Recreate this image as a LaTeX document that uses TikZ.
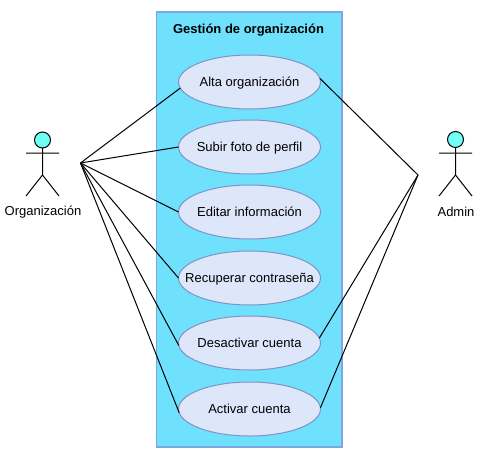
\documentclass[tikz,border=0pt]{standalone}
\usepackage{fontspec}
\setmainfont{Liberation Sans}
\usetikzlibrary{shapes.geometric}
\definecolor{boxfill}{HTML}{70E1FD}
\definecolor{boxline}{HTML}{7EA6E0}
\definecolor{ucfill}{HTML}{DEE6FA}
\definecolor{ucline}{HTML}{7F93C4}
\definecolor{headfill}{HTML}{70FFF5}
\newcommand{\uctext}[1]{\raisebox{-4.6pt}[0pt][0pt]{\makebox[0pt]{#1}}}
\tikzset{
  x=1pt,y=-1pt,
  system/.style={draw=boxline,fill=boxfill,line width=1.1pt,minimum width=185.5pt,minimum height=435pt,inner sep=0pt,outer sep=0pt},
  usecase/.style={ellipse,draw=ucline,fill=ucfill,line width=1pt,minimum width=142pt,minimum height=54pt,inner sep=0pt,outer sep=0pt,font=\fontsize{13}{15}\selectfont},
  label/.style={font=\fontsize{13}{15}\selectfont,inner sep=0pt},
  head/.style={circle,draw=black,fill=headfill,line width=1pt,minimum size=16pt,inner sep=0pt,outer sep=0pt},
  wire/.style={draw=black,line width=1pt},
}
\begin{document}
\begin{tikzpicture}
\useasboundingbox (0,0) rectangle (486,460);
\node[system] (sys) at (249.25,229.5) {};
\node[label,font=\bfseries\fontsize{13}{15}\selectfont] (title) at (248.5,30) {Gestión de organización};
\node[usecase] (u1) at (249.5,82) {\uctext{Alta organización}};
\node[usecase] (u2) at (249.5,147) {\uctext{Subir foto de perfil}};
\node[usecase] (u3) at (249.5,212) {\uctext{Editar información}};
\node[usecase] (u4) at (249.5,278) {\uctext{Recuperar contraseña}};
\node[usecase] (u5) at (249.5,343) {\uctext{Desactivar cuenta}};
\node[usecase] (u6) at (249.5,409) {\uctext{Activar cuenta}};
% left actor
\node[head] (hl) at (42.5,140) {};
\coordinate (nl) at (42.5,175);
\coordinate (al) at (26,153);
\coordinate (ar) at (59,153);
\coordinate (fl) at (26,196);
\coordinate (fr) at (59,196);
\draw[wire] (hl) -- (nl) (al) -- (ar) (fl) -- (nl) -- (fr);
\node[label] (ln) at (43,212) {Organización};
% right actor
\node[head] (hr) at (455.5,139.5) {};
\coordinate (nr) at (455.5,175);
\coordinate (bl) at (439,153);
\coordinate (br) at (472,153);
\coordinate (gl) at (439,196);
\coordinate (gr) at (472,196);
\draw[wire] (hr) -- (nr) (bl) -- (br) (gl) -- (nr) -- (gr);
\node[label] (rn) at (456,212) {Admin};
% junctions
\coordinate (L) at (80.5,163);
\coordinate (R) at (418,175);
\draw[wire] (L) -- (u1.185);
\draw[wire] (L) -- (u2.180);
\draw[wire] (L) -- (u3.180);
\draw[wire] (L) -- (u4.180);
\draw[wire] (L) -- (u5.182);
\draw[wire] (L) -- (u6.183);
\draw[wire] (R) -- (u1.3);
\draw[wire] (R) -- (u5.4);
\draw[wire] (R) -- (u6.1);
\end{tikzpicture}
\end{document}
